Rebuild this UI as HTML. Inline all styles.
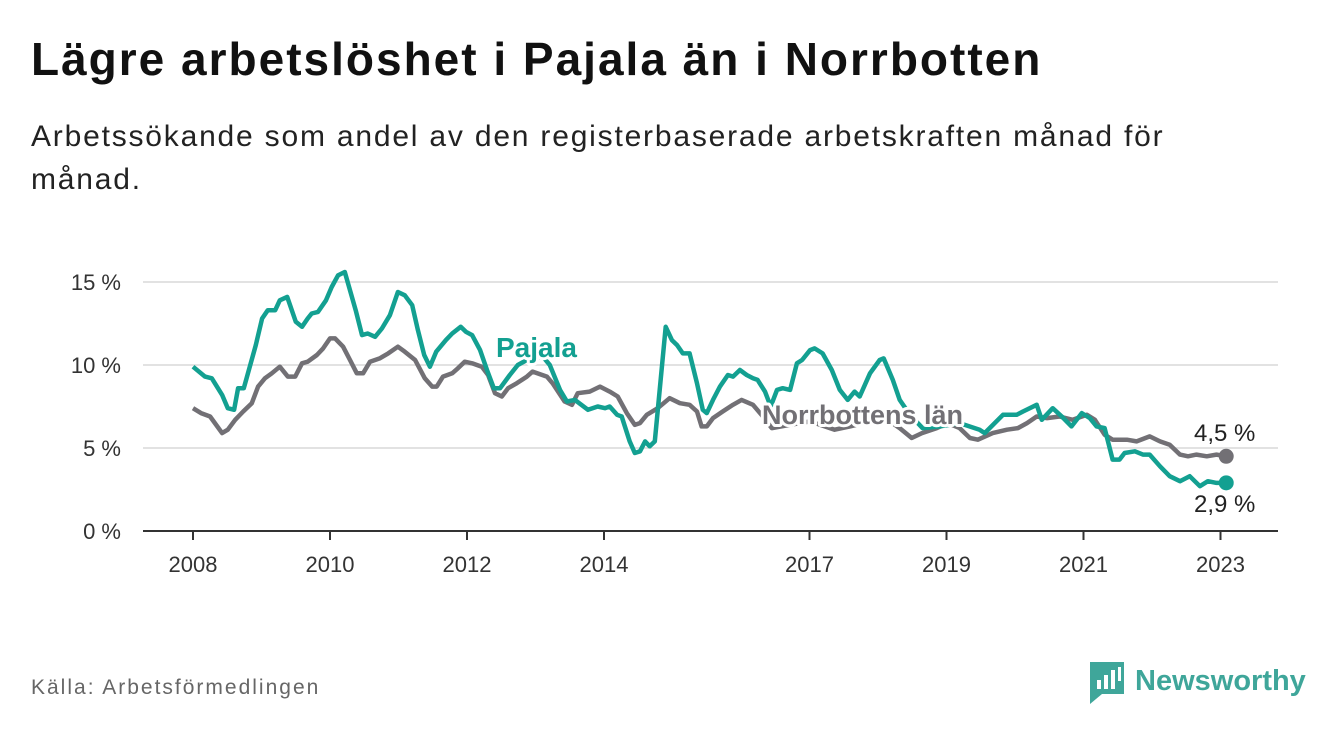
<!DOCTYPE html>
<html><head><meta charset="utf-8">
<style>
html,body{margin:0;padding:0;background:#fff;}
body{width:1340px;height:734px;position:relative;overflow:hidden;font-family:"Liberation Sans",sans-serif;}
#title{position:absolute;left:31px;top:32px;font-size:46px;font-weight:bold;color:#111;margin:0;letter-spacing:2px;white-space:nowrap;}
#subtitle{position:absolute;left:31px;top:115px;width:1200px;font-size:30px;line-height:43px;color:#222;margin:0;letter-spacing:1.8px;}
#source{position:absolute;left:31px;top:676px;font-size:21px;color:#666;letter-spacing:2px;}
svg{position:absolute;left:0;top:0;}
</style></head>
<body>
<h1 id="title">Lägre arbetslöshet i Pajala än i Norrbotten</h1>
<p id="subtitle">Arbetssökande som andel av den registerbaserade arbetskraften månad för månad.</p>
<div id="source">Källa: Arbetsförmedlingen</div>
<svg id="chart" width="1340" height="734"></svg>
<script>
const yTicks=[0,5,10,15];
const yTickLabels=["0 %","5 %","10 %","15 %"];
const xTickYears=[2008,2010,2012,2014,2017,2019,2021,2023];
const pajalaMonths=[0,2.1,3.3,5.1,6.1,7.2,7.9,8.9,11,12.1,13.1,14.4,15.2,16.5,18,19.1,20.1,20.8,21.9,23.3,24.3,25.4,26.6,27.5,28.5,29.6,30.6,31.9,33.1,34.5,35.9,37.1,38.4,39.4,40.5,41.5,42.6,44.3,45.4,46.9,47.8,48.9,50.3,51.5,52.7,53.8,55.5,56.9,59,61.3,62.5,64.3,65.5,66.9,69.2,70.9,72.2,73,74.3,75.1,76.5,77.4,78.3,79.2,80,80.9,82.8,83.9,84.8,85.8,87,88.3,89.3,90,91.1,92.3,93.7,94.6,95.8,97,98.1,98.9,100.2,101.2,102.3,103.3,104.6,105.8,106.7,108.1,108.9,110.3,111.9,113.3,114.7,115.9,116.8,118.6,120.3,121,122.6,123.8,125.6,127.8,130.8,134.3,137.8,138.7,141.9,144.3,145.4,147.8,148.7,150.6,152.2,153.9,155.7,157.1,158.3,159.7,161.1,162.3,163.2,165,166.4,167.6,169.4,171.1,172.9,174.6,176.4,177.8,179.3,181];
const pajalaValues=[9.9,9.3,9.2,8.2,7.4,7.3,8.6,8.6,11.2,12.8,13.3,13.3,13.9,14.1,12.6,12.3,12.8,13.1,13.2,13.9,14.7,15.4,15.6,14.5,13.3,11.8,11.9,11.7,12.2,13,14.4,14.2,13.6,12.1,10.6,9.9,10.8,11.5,11.9,12.3,12,11.8,10.9,9.7,8.6,8.6,9.4,10,10.4,10.5,10,8.5,7.8,7.9,7.3,7.5,7.4,7.5,7,6.9,5.4,4.7,4.8,5.4,5.1,5.4,12.3,11.5,11.2,10.7,10.7,8.9,7.3,7.1,7.9,8.7,9.4,9.3,9.7,9.4,9.2,9.1,8.4,7.5,8.5,8.6,8.5,10.1,10.3,10.9,11,10.7,9.7,8.5,7.9,8.4,8.1,9.5,10.3,10.4,9.1,7.9,7,6.2,6.3,6.5,6.1,5.9,7,7,7.2,7.6,6.7,7.4,6.9,6.3,7.1,6.8,6.3,6.2,4.3,4.3,4.7,4.8,4.6,4.6,3.9,3.3,3,3.3,2.7,3,2.9,2.9];
const norrMonths=[0,1.4,3,5.1,6.1,7.4,8.8,10.3,11.4,12.6,13.8,15.2,16.6,17.9,19.1,20.1,21.7,22.8,24,24.9,26.3,27.5,28.7,29.8,31,32.7,34.2,35.9,37.1,38.9,40.6,41.9,42.7,43.8,45.4,46.4,47.6,48.9,50.6,51.7,52.9,54.1,55.2,56.7,58.5,59.5,62,63,65.1,66.4,67.4,69.5,71.3,73,74.4,76,77.4,78.3,79.5,81.4,83.5,85.3,87,88.3,89.1,90,91.1,92.8,94.6,96.1,98.1,99.6,101.4,104.6,108.1,112.4,115.1,118.6,122.1,123.8,125.9,127.7,130.3,132.2,134.3,136.1,137.5,140.1,142.6,144.5,146.1,147.8,149.6,151.8,154.1,156.6,158,159.7,161.1,163.6,165.3,167.6,169.4,171.1,172.9,174.3,175.8,177.6,179.3,181];
const norrValues=[7.4,7.1,6.9,5.9,6.1,6.7,7.2,7.7,8.7,9.2,9.5,9.9,9.3,9.3,10.1,10.2,10.6,11,11.6,11.6,11.1,10.3,9.5,9.5,10.2,10.4,10.7,11.1,10.8,10.3,9.2,8.7,8.7,9.3,9.5,9.8,10.2,10.1,9.9,9.4,8.3,8.1,8.6,8.9,9.3,9.6,9.3,8.9,7.8,7.6,8.3,8.4,8.7,8.4,8.1,7.1,6.4,6.5,7,7.4,8,7.7,7.6,7.2,6.3,6.3,6.8,7.2,7.6,7.9,7.6,7,6.2,6.4,6.6,6.1,6.3,6.6,6.6,6.2,5.6,5.9,6.2,6.5,6.2,5.6,5.5,5.9,6.1,6.2,6.5,6.9,6.8,6.9,6.7,7,6.7,5.8,5.5,5.5,5.4,5.7,5.4,5.2,4.6,4.5,4.6,4.5,4.6,4.5];

const NS="http://www.w3.org/2000/svg";
const svg=document.getElementById('chart');
const x0=193, pxPerYear=68.5;
const xScale=m=>x0+m*pxPerYear/12;
const yScale=v=>531-v*16.6;
function mk(tag,attrs,parent){const e=document.createElementNS(NS,tag);for(const k in attrs)e.setAttribute(k,attrs[k]);(parent||svg).appendChild(e);return e;}
const TEAL="#13a091", GRAY="#727075";

yTicks.forEach((t,i)=>{
  if(t>0){const g=mk('line',{x1:143,x2:1278,y1:yScale(t),y2:yScale(t),stroke:'#d9d9d9','stroke-width':1.5});
  
  }
  const l=mk('text',{x:121,y:yScale(t)+8,'text-anchor':'end','font-size':22,fill:'#333','font-family':'Liberation Sans, sans-serif'});
  l.textContent=yTickLabels[i];
  
  
});
const ax=mk('line',{x1:143,x2:1278,y1:531,y2:531,stroke:'#333','stroke-width':2});


xTickYears.forEach(y=>{
  const x=xScale((y-2008)*12);
  const tk=mk('line',{x1:x,x2:x,y1:531,y2:540,stroke:'#333','stroke-width':2});
  
  
  const l=mk('text',{x:x,y:572,'text-anchor':'middle','font-size':22,fill:'#333','font-family':'Liberation Sans, sans-serif'});
  l.textContent=y;
  
  
});
function path(ms,vs){return ms.map((m,i)=>(i?'L':'M')+xScale(m).toFixed(1)+','+yScale(vs[i]).toFixed(1)).join('');}
const gl=mk('path',{d:path(norrMonths,norrValues),fill:'none',stroke:GRAY,'stroke-width':4.5,'stroke-linejoin':'round'});


const pl=mk('path',{d:path(pajalaMonths,pajalaValues),fill:'none',stroke:TEAL,'stroke-width':4.5,'stroke-linejoin':'round'});


const nL=norrMonths.length-1, pL=pajalaMonths.length-1;
const gd=mk('circle',{cx:xScale(norrMonths[nL]),cy:yScale(norrValues[nL]),r:7.5,fill:GRAY});


const pd=mk('circle',{cx:xScale(pajalaMonths[pL]),cy:yScale(pajalaValues[pL]),r:7.5,fill:TEAL});


function lbl(txt,x,y,size,fill,weight,name,halo){
  const t=mk('text',{x:x,y:y,'font-size':size,fill:fill,'font-weight':weight,'font-family':'Liberation Sans, sans-serif'});
  if(halo){t.setAttribute('stroke','#fff');t.setAttribute('stroke-width',6);t.setAttribute('paint-order','stroke');t.setAttribute('stroke-linejoin','round');}
  t.textContent=txt;
  
  
  return t;
}
lbl('Pajala',496,357,28,TEAL,'bold','pajala-series-label',true);
lbl('Norrbottens län',762,424,27,GRAY,'bold','norrbotten-series-label',true);
lbl(norrValues[nL].toFixed(1).replace('.',',')+' %',1194,441,24,'#222','normal','norrbotten-end-value',true);
lbl(pajalaValues[pL].toFixed(1).replace('.',',')+' %',1194,512,24,'#222','normal','pajala-end-value',true);

const lg=mk('g',{});


mk('path',{d:'M1090,662 h34 v32 h-22 l-12,10 z',fill:'#3fa69a'},lg);
[[1097,680,4,9],[1104,675,4,14],[1111,670,4,19],[1118,667,3,14]].forEach(b=>mk('rect',{x:b[0],y:b[1],width:b[2],height:b[3],fill:'#fff'},lg));
const lt=mk('text',{x:1135,y:690,'font-size':29,'font-weight':'bold',fill:'#3fa69a','font-family':'Liberation Sans, sans-serif'},lg);
lt.textContent='Newsworthy';
</script>
</body></html>
